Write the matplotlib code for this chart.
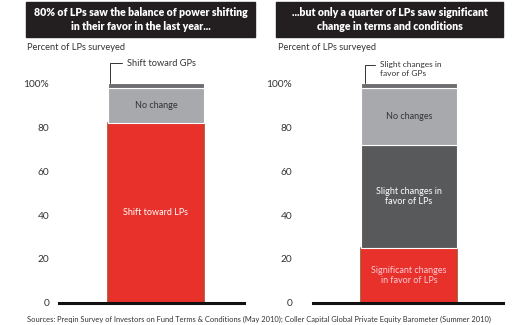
import matplotlib

matplotlib.use("Agg")
import matplotlib.pyplot as plt
from matplotlib.patches import Rectangle

plt.rcParams["font.family"] = ["Lato", "DejaVu Sans"]

# left panel: shift in balance of power (Preqin)
left_labels = ["Shift toward LPs", "No change", "Shift toward GPs"]
left_values = [82, 16, 2]
# right panel: changes in terms and conditions (Coller Capital)
right_labels = ["Significant changes\nin favor of LPs", "Slight changes in\nfavor of LPs",
                "No changes", "Slight changes in\nfavor of GPs"]
right_values = [25, 47, 26, 2]

yticks = [0, 20, 40, 60, 80, 100]
ytick_labels = ["0", "20", "40", "60", "80", "100%"]

left_title = "80% of LPs saw the balance of power shifting\nin their favor in the last year..."
right_title = "...but only a quarter of LPs saw significant\nchange in terms and conditions"
source = ("Sources: Preqin Survey of Investors on Fund Terms & Conditions (May 2010); "
          "Coller Capital Global Private Equity Barometer (Summer 2010)")

RED = "#e8312a"
LIGHT = "#a7a9ac"
DARK = "#58595b"
TOPSEG = "#6d6e71"

W, H = 530, 325
fig = plt.figure(figsize=(W / 100, H / 100), dpi=100)


def px(x0, y0, x1, y1):
    """pixel box (top-left origin) -> figure fraction rect"""
    return [x0 / W, 1 - y1 / H, (x1 - x0) / W, (y1 - y0) / H]


def stacked(ax, values, colors, text_colors, labels, center, width):
    bottom = 0
    for i, (v, c) in enumerate(zip(values, colors)):
        if c == RED:
            ax.bar(center, v, width + 0.015, bottom=bottom, color="#fbd3e3", lw=0,
                   clip_on=False, zorder=1)
            ax.bar(center, v, width, bottom=bottom, color=c, edgecolor="#b8482c",
                   lw=1.2, clip_on=False, zorder=2)
        else:
            ax.bar(center, v, width, bottom=bottom, color=c, edgecolor="white",
                   lw=0.8, clip_on=False, zorder=2)
        if text_colors[i] is not None:
            ax.text(center, bottom + v / 2, labels[i], ha="center", va="center",
                    fontsize=6.5, color=text_colors[i], zorder=3, linespacing=1.2)
        bottom += v


def style(ax):
    ax.set_xlim(0, 1)
    ax.set_ylim(0, 100)
    for s in ["top", "right", "left"]:
        ax.spines[s].set_visible(False)
    ax.spines["bottom"].set_linewidth(2.2)
    ax.spines["bottom"].set_color("#111111")
    ax.spines["bottom"].set_zorder(5)
    ax.set_xticks([])
    ax.set_yticks(yticks)
    ax.set_yticklabels(ytick_labels)
    ax.tick_params(axis="y", length=0, labelsize=7.3, colors="#333333")


# left
axL = fig.add_axes(px(59, 83.3, 244, 302.9))
style(axL)
axL.tick_params(axis="y", pad=7)
stacked(axL, left_values, [RED, LIGHT, TOPSEG], ["white", "#333333", None],
        left_labels, 0.524, 0.519)
axL.annotate(left_labels[2], xy=(0.276, 100), xytext=(0.368, 109.2),
             fontsize=6.7, color="#333333", va="center", ha="left",
             arrowprops=dict(arrowstyle="-", color="#333333", lw=0.7, shrinkA=2, shrinkB=0,
                             relpos=(0, 0.5),
                             connectionstyle="angle,angleA=0,angleB=90,rad=0"),
             annotation_clip=False)

# right
axR = fig.add_axes(px(313, 83.3, 503, 302.9))
style(axR)
axR.tick_params(axis="y", pad=15)
stacked(axR, right_values, [RED, DARK, LIGHT, TOPSEG], ["#fbc8d6", "white", "#333333", None],
        right_labels, 0.505, 0.505)
axR.annotate(right_labels[3], xy=(0.274, 100), xytext=(0.353, 106.5),
             fontsize=6.0, color="#333333", va="center", ha="left", linespacing=1.3,
             arrowprops=dict(arrowstyle="-", color="#333333", lw=0.7, shrinkA=2, shrinkB=0,
                             relpos=(0, 0.78),
                             connectionstyle="angle,angleA=0,angleB=90,rad=0"),
             annotation_clip=False)

# title boxes
for (x0, x1), title in [((26, 255), left_title), ((276, 503), right_title)]:
    fig.patches.append(Rectangle((x0 / W, 1 - 37 / H), (x1 - x0) / W, 35 / H,
                                 transform=fig.transFigure, color="#231f20", zorder=0))
    fig.text((x0 + x1) / 2 / W, 1 - 19.5 / H, title, ha="center", va="center",
             color="white", fontsize=7.6, fontweight="heavy", linespacing=1.3)

fig.text(27 / W, 1 - 47.5 / H, "Percent of LPs surveyed", fontsize=6.7,
         color="#333333", va="center")
fig.text(278 / W, 1 - 47.5 / H, "Percent of LPs surveyed", fontsize=6.7,
         color="#333333", va="center")
fig.text(27 / W, 1 - 319 / H, source, fontsize=5.4, color="#333333", va="center")

fig.savefig("out.png", dpi=100)
